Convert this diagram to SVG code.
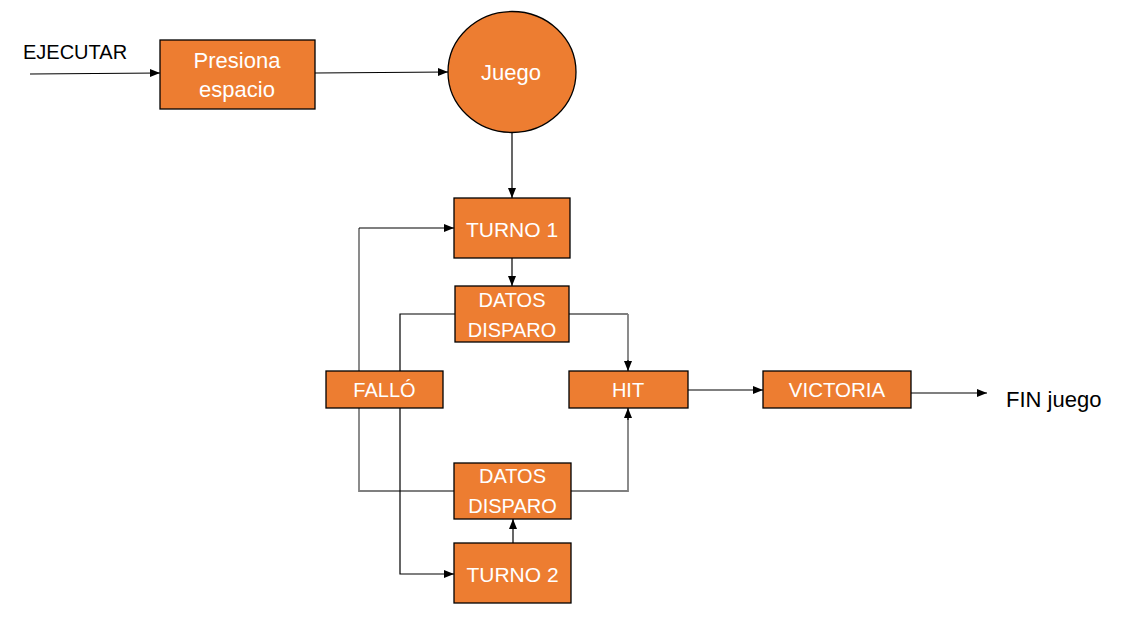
<svg xmlns="http://www.w3.org/2000/svg" width="1142" height="632" viewBox="0 0 1142 632">
<defs>
<style>
.box{fill:#ED7D31;stroke:#000;stroke-width:1.3}
.lbl{fill:#fff;font-family:"Liberation Sans",Arial,sans-serif;text-anchor:middle}
.out{fill:#000;font-family:"Liberation Sans",Arial,sans-serif}
.ln{fill:none;stroke:#000;stroke-width:1.2}
.gl{fill:none;stroke:#7f7f7f;stroke-width:1.8}
</style>
<marker id="ah" markerUnits="userSpaceOnUse" markerWidth="10" markerHeight="10" viewBox="0 0 10 10" refX="10" refY="5" orient="auto">
<path d="M0,1 L10,5 L0,9 Z" fill="#000"/>
</marker>
</defs>
<rect width="1142" height="632" fill="#fff"/>
<g id="connectors">
<path class="ln" d="M30,74 L160,73" marker-end="url(#ah)"/>
<path class="ln" d="M315,73 L448,72" marker-end="url(#ah)"/>
<path class="ln" d="M512,133 L512,198" marker-end="url(#ah)"/>
<path class="ln" d="M512,258 L512,286" marker-end="url(#ah)"/>
<path class="gl" d="M359,371 L359,228"/>
<path class="ln" d="M359,228 L454,228" marker-end="url(#ah)"/>
<path class="ln" d="M400,371 L400,314 L455,314"/>
<path class="ln" d="M569,314 L628,314"/>
<path class="gl" d="M628,314 L628,362"/>
<path class="ln" d="M628,360 L628,371" marker-end="url(#ah)"/>
<path class="gl" d="M359,408 L359,491 L454,491"/>
<path class="ln" d="M400,408 L400,574 L454,574" marker-end="url(#ah)"/>
<path class="gl" d="M571,491 L628,491 L628,418"/>
<path class="ln" d="M628,420 L628,408" marker-end="url(#ah)"/>
<path class="ln" d="M513,543 L513,519" marker-end="url(#ah)"/>
<path class="ln" d="M688,390 L763,390" marker-end="url(#ah)"/>
<path class="ln" d="M911,393 L987,393" marker-end="url(#ah)"/>
</g>
<g id="ejecutar"><text class="out" x="23" y="59" font-size="20">EJECUTAR</text></g>
<g id="presiona">
<rect class="box" x="160" y="40" width="155" height="69"/>
<text class="lbl" x="237" y="68" font-size="22">Presiona</text>
<text class="lbl" x="237" y="97" font-size="22">espacio</text>
</g>
<g id="juego">
<ellipse class="box" cx="512" cy="72" rx="64" ry="60.5"/>
<text class="lbl" x="511" y="80" font-size="22">Juego</text>
</g>
<g id="turno1">
<rect class="box" x="454" y="198" width="116" height="60"/>
<text class="lbl" x="512" y="237" font-size="21">TURNO 1</text>
</g>
<g id="datos1">
<rect class="box" x="455" y="286" width="114" height="56"/>
<text class="lbl" x="512" y="307" font-size="20">DATOS</text>
<text class="lbl" x="512" y="337" font-size="20">DISPARO</text>
</g>
<g id="fallo">
<rect class="box" x="326" y="371" width="117" height="37"/>
<text class="lbl" x="384.5" y="397" font-size="20">FALLÓ</text>
</g>
<g id="hit">
<rect class="box" x="569" y="371" width="119" height="37"/>
<text class="lbl" x="628" y="397" font-size="20">HIT</text>
</g>
<g id="victoria">
<rect class="box" x="763" y="371" width="148" height="37"/>
<text class="lbl" x="837" y="397" font-size="20.5">VICTORIA</text>
</g>
<g id="fin"><text class="out" x="1006" y="407" font-size="22">FIN juego</text></g>
<g id="datos2">
<rect class="box" x="454" y="463" width="117" height="56"/>
<text class="lbl" x="512.5" y="483" font-size="20">DATOS</text>
<text class="lbl" x="512.5" y="513" font-size="20">DISPARO</text>
</g>
<g id="turno2">
<rect class="box" x="454" y="543" width="117" height="60"/>
<text class="lbl" x="512.5" y="582" font-size="21">TURNO 2</text>
</g>
</svg>
